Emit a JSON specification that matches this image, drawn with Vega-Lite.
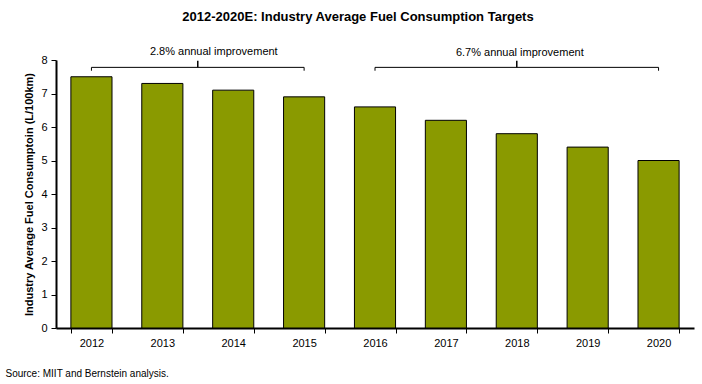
{
  "$schema": "https://vega.github.io/schema/vega-lite/v6.json",
  "width": 638,
  "height": 268,
  "autosize": {"type": "none"},
  "padding": {"left": 56, "top": 60, "right": 8, "bottom": 56},
  "background": "white",
  "config": {
    "view": {"stroke": null},
    "font": "Liberation Sans",
    "axis": {"labelFont": "Liberation Sans", "titleFont": "Liberation Sans", "labelColor": "black", "titleColor": "black", "domainColor": "black", "tickColor": "black", "grid": false},
    "axisY": {"labelOverlap": false, "labelFontSize": 11, "labelPadding": 4, "tickSize": 5, "domainWidth": 2, "titleFontSize": 11, "titleFontWeight": "bold", "titlePadding": 6}
  },
  "title": {
    "text": "2012-2020E: Industry Average Fuel Consumption Targets",
    "font": "Liberation Sans",
    "fontSize": 13,
    "fontWeight": "bold",
    "color": "black",
    "anchor": "middle",
    "dx": -17,
    "offset": 22
  },
  "datasets": {
    "fuel": [
      {"year": "2012", "value": 7.5},
      {"year": "2013", "value": 7.3},
      {"year": "2014", "value": 7.1},
      {"year": "2015", "value": 6.9},
      {"year": "2016", "value": 6.6},
      {"year": "2017", "value": 6.2},
      {"year": "2018", "value": 5.8},
      {"year": "2019", "value": 5.4},
      {"year": "2020", "value": 5.0}
    ],
    "brackets": [
      {"start": "2012", "end": "2015", "mid": "2013", "label": "2.8% annual improvement"},
      {"start": "2016", "end": "2020", "mid": "2018", "label": "6.7% annual improvement"}
    ]
  },
  "layer": [
    {
      "data": {"name": "fuel"},
      "mark": {"type": "bar", "color": "#8a9a00", "stroke": "black", "strokeWidth": 1},
      "encoding": {
        "x": {
          "field": "year", "type": "nominal",
          "scale": {"paddingInner": 0.42, "paddingOuter": 0.21},
          "axis": {
            "labelAngle": 0, "labelFontSize": 11, "labelPadding": 4,
            "tickBand": "extent", "tickSize": 5, "domainWidth": 2,
            "title": "Source: MIIT and Bernstein analysis.",
            "titleFontSize": 10, "titleFontWeight": "normal",
            "titleAnchor": "start", "titleAlign": "left", "titleBaseline": "middle",
            "titleX": -51, "titleY": 45
          }
        },
        "y": {
          "field": "value", "type": "quantitative",
          "scale": {"domain": [0, 8], "nice": false},
          "axis": {"values": [0, 1, 2, 3, 4, 5, 6, 7, 8], "tickCount": 12, "format": "d", "title": "Industry Average Fuel Consumptoin (L/100km)"}
        }
      }
    },
    {
      "data": {"name": "brackets"},
      "mark": {"type": "rule", "color": "black", "strokeWidth": 1},
      "encoding": {
        "x": {"field": "start", "type": "nominal"},
        "x2": {"field": "end"},
        "y": {"datum": 7.78, "axis": {"values": [0, 1, 2, 3, 4, 5, 6, 7, 8], "tickCount": 12, "format": "d", "title": "Industry Average Fuel Consumptoin (L/100km)"}}
      }
    },
    {
      "data": {"name": "brackets"},
      "mark": {"type": "rule", "color": "black", "strokeWidth": 1},
      "encoding": {
        "x": {"field": "start", "type": "nominal"},
        "y": {"datum": 7.78, "axis": {"values": [0, 1, 2, 3, 4, 5, 6, 7, 8], "tickCount": 12, "format": "d", "title": "Industry Average Fuel Consumptoin (L/100km)"}},
        "y2": {"datum": 7.68}
      }
    },
    {
      "data": {"name": "brackets"},
      "mark": {"type": "rule", "color": "black", "strokeWidth": 1},
      "encoding": {
        "x": {"field": "end", "type": "nominal"},
        "y": {"datum": 7.78, "axis": {"values": [0, 1, 2, 3, 4, 5, 6, 7, 8], "tickCount": 12, "format": "d", "title": "Industry Average Fuel Consumptoin (L/100km)"}},
        "y2": {"datum": 7.68}
      }
    },
    {
      "data": {"name": "brackets"},
      "transform": [{"filter": "datum.mid === '2013'"}],
      "layer": [
        {
          "mark": {"type": "rule", "color": "black", "strokeWidth": 1.5},
          "encoding": {
            "x": {"field": "mid", "type": "nominal", "bandPosition": 1.362},
            "y": {"datum": 7.78, "axis": {"values": [0, 1, 2, 3, 4, 5, 6, 7, 8], "tickCount": 12, "format": "d", "title": "Industry Average Fuel Consumptoin (L/100km)"}},
            "y2": {"datum": 7.98}
          }
        },
        {
          "mark": {"type": "text", "fontSize": 11, "color": "black", "baseline": "middle", "align": "center", "dx": 16},
          "encoding": {
            "x": {"field": "mid", "type": "nominal", "bandPosition": 1.362},
            "y": {"datum": 8.25, "axis": {"values": [0, 1, 2, 3, 4, 5, 6, 7, 8], "tickCount": 12, "format": "d", "title": "Industry Average Fuel Consumptoin (L/100km)"}},
            "text": {"field": "label"}
          }
        }
      ]
    },
    {
      "data": {"name": "brackets"},
      "transform": [{"filter": "datum.mid === '2018'"}],
      "layer": [
        {
          "mark": {"type": "rule", "color": "black", "strokeWidth": 1.5},
          "encoding": {
            "x": {"field": "mid", "type": "nominal"},
            "y": {"datum": 7.78, "axis": {"values": [0, 1, 2, 3, 4, 5, 6, 7, 8], "tickCount": 12, "format": "d", "title": "Industry Average Fuel Consumptoin (L/100km)"}},
            "y2": {"datum": 7.98}
          }
        },
        {
          "mark": {"type": "text", "fontSize": 11, "color": "black", "baseline": "middle", "align": "center", "dx": 3},
          "encoding": {
            "x": {"field": "mid", "type": "nominal"},
            "y": {"datum": 8.22, "axis": {"values": [0, 1, 2, 3, 4, 5, 6, 7, 8], "tickCount": 12, "format": "d", "title": "Industry Average Fuel Consumptoin (L/100km)"}},
            "text": {"field": "label"}
          }
        }
      ]
    }
  ]
}
